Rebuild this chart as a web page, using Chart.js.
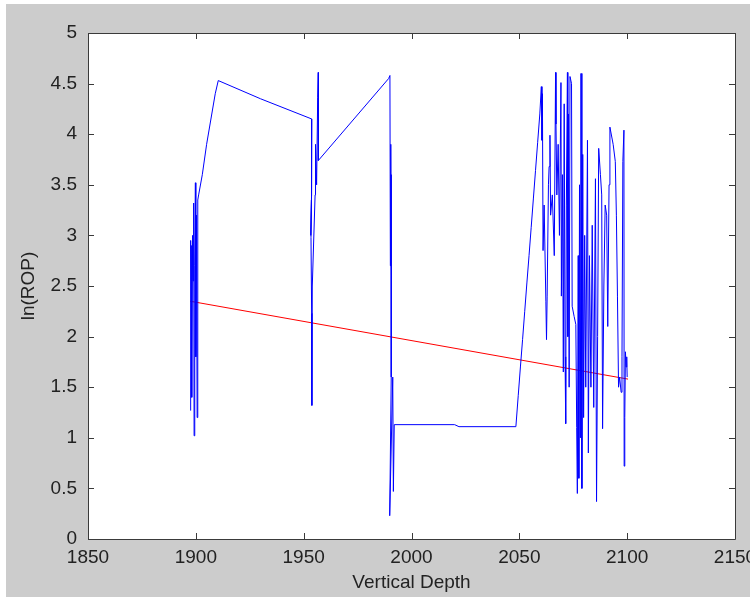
<!DOCTYPE html>
<html>
<head>
<meta charset="utf-8">
<title>ln(ROP) vs Vertical Depth</title>
<script src="https://cdn.jsdelivr.net/npm/chart.js@4.4.0/dist/chart.umd.min.js"></script>
<style>
  html, body { margin: 0; padding: 0; background: #ffffff; }
  #wrap { position: absolute; left: 0; top: 0; width: 750px; height: 597px; }
</style>
</head>
<body>
<div id="wrap"><canvas id="ropChart" width="750" height="597"></canvas></div>
<script>
// measured data (blue line), in drawing order
const depth = [
  1897.5, 1897.6, 1897.8, 1898.0, 1898.2, 1898.5, 1898.7, 1899.0, 1899.2, 1899.5,
  1899.8, 1900.0, 1900.3, 1900.6, 1900.9, 1901.3, 1903.0, 1905.0, 1907.0, 1909.0,
  1910.4, 1930.0, 1953.8,
  1953.8, 1953.5, 1953.3, 1953.6, 1953.4, 1953.7, 1953.8, 1954.0, 1955.3, 1955.5,
  1956.0, 1956.5, 1956.8, 1956.8, 1989.4,
  1990.0, 1990.2, 1990.4, 1990.6, 1990.5, 1990.7, 1989.9, 1991.3, 1991.6, 1992.0,
  2020.0, 2022.0, 2048.4,
  2049.5, 2050.5, 2051.5, 2052.5, 2053.5, 2054.5, 2055.5, 2056.5, 2057.5, 2058.5,
  2059.5, 2060.2, 2060.5, 2060.7, 2061.0, 2061.5, 2062.3, 2062.6, 2062.9,
  2063.5, 2063.8, 2064.2, 2064.5, 2065.3, 2066.2, 2066.8, 2067.0, 2067.4, 2068.0,
  2068.6, 2069.3, 2069.5, 2070.0, 2070.4, 2070.8, 2071.2, 2071.5, 2071.8, 2072.3,
  2072.5, 2072.8, 2073.1, 2073.5, 2074.2, 2074.5, 2075.4, 2076.2, 2076.6, 2076.9,
  2077.3, 2077.6, 2077.9, 2078.3, 2078.6, 2079.0, 2079.4, 2079.8, 2080.3, 2080.8,
  2081.6, 2082.0, 2082.5, 2083.2, 2083.8, 2084.5, 2085.3, 2085.8, 2086.3, 2086.8,
  2087.6, 2088.2, 2088.6, 2089.2, 2089.8, 2090.5, 2091.0, 2091.6, 2092.0, 2093.5,
  2094.5, 2095.0, 2095.5, 2096.0, 2096.5, 2097.2, 2097.6, 2098.0, 2098.5, 2098.6,
  2098.9, 2099.2, 2099.5, 2099.8, 2100.0
];
const lnRop = [
  1.27, 2.95, 2.60, 2.90, 1.40, 3.00, 2.55, 3.32, 1.02, 2.70,
  3.52, 1.80, 3.20, 1.20, 3.35, 3.40, 3.60, 3.90, 4.15, 4.40,
  4.53, 4.35, 4.15,
  3.44, 3.39, 3.00, 3.35, 2.98, 2.23, 1.32, 2.50, 3.40, 3.90,
  3.50, 4.36, 4.61, 3.74, 4.55,
  4.58, 2.70, 3.90, 2.60, 3.60, 1.60, 0.23, 1.60, 0.47, 1.13,
  1.13, 1.11, 1.11,
  1.42, 1.70, 1.97, 2.25, 2.53, 2.80, 3.08, 3.36, 3.64, 3.92,
  4.20, 4.47, 3.94, 4.40, 2.85, 3.30, 2.35, 1.97, 2.40,
  3.50, 3.68, 3.99, 3.20, 3.40, 2.80, 4.61, 4.10, 3.40, 3.90,
  3.00, 4.51, 2.40, 3.60, 1.65, 4.30, 1.80, 1.14, 3.30, 4.61,
  2.00, 4.20, 1.50, 4.57, 4.50, 2.30, 2.20, 2.12, 1.10, 0.45,
  2.80, 0.60, 3.50, 1.00, 4.60, 0.50, 3.80, 1.20, 3.00, 1.50,
  3.94, 0.85, 2.80, 1.50, 3.10, 1.30, 3.56, 0.37, 2.00, 3.86,
  3.60, 3.40, 1.09, 2.50, 3.30, 3.20, 2.10, 3.50, 4.07, 3.90,
  3.73, 3.20, 2.40, 1.50, 1.60, 1.45, 1.80, 3.73, 4.04, 0.72,
  1.20, 1.85, 1.70, 1.80, 1.60
];

// fitted trend line (red)
const trendDepth = [1897.3, 2100.4];
const trendValue = [2.35, 1.58];

// axis ticks
const xTicks = [1850, 1900, 1950, 2000, 2050, 2100, 2150];
const yTicks = [0, 0.5, 1, 1.5, 2, 2.5, 3, 3.5, 4, 4.5, 5];
const xTickLabels = ['1850', '1900', '1950', '2000', '2050', '2100', '2150'];
const yTickLabels = ['0', '0.5', '1', '1.5', '2', '2.5', '3', '3.5', '4', '4.5', '5'];

const labelFont = { family: "'Liberation Sans', Arial, sans-serif", size: 19 };

// 회색 배경과 안쪽으로 향하는 눈금 (MATLAB 스타일)
const matlabFrame = {
  id: 'matlabFrame',
  beforeDraw(chart) {
    const ctx = chart.ctx;
    const a = chart.chartArea;
    ctx.save();
    ctx.fillStyle = '#cccccc';
    ctx.fillRect(6, 4, 744, 593);
    ctx.fillStyle = '#ffffff';
    ctx.fillRect(a.left, a.top, a.right - a.left, a.bottom - a.top);
    ctx.restore();
  },
  afterDraw(chart) {
    const ctx = chart.ctx;
    const a = chart.chartArea;
    const xs = chart.scales.x;
    const ys = chart.scales.y;
    const len = 6;
    ctx.save();
    ctx.strokeStyle = '#3a3a3a';
    ctx.lineWidth = 1;
    ctx.beginPath();
    ctx.rect(Math.round(a.left) + 0.5, Math.round(a.top) + 0.5,
             Math.round(a.right - a.left), Math.round(a.bottom - a.top));
    xTicks.forEach(v => {
      const px = Math.round(xs.getPixelForValue(v)) + 0.5;
      ctx.moveTo(px, a.bottom); ctx.lineTo(px, a.bottom - len);
      ctx.moveTo(px, a.top); ctx.lineTo(px, a.top + len);
    });
    yTicks.forEach(v => {
      const py = Math.round(ys.getPixelForValue(v)) + 0.5;
      ctx.moveTo(a.left, py); ctx.lineTo(a.left + len, py);
      ctx.moveTo(a.right, py); ctx.lineTo(a.right - len, py);
    });
    ctx.stroke();
    ctx.restore();
  }
};

const ctx = document.getElementById('ropChart').getContext('2d');
new Chart(ctx, {
  type: 'scatter',
  data: {
    datasets: [
      {
        label: 'ln(ROP)',
        data: depth.map((d, i) => ({ x: d, y: lnRop[i] })),
        showLine: true,
        borderColor: '#0000ff',
        borderWidth: 1,
        pointRadius: 0,
        tension: 0
      },
      {
        label: 'trend',
        data: trendDepth.map((d, i) => ({ x: d, y: trendValue[i] })),
        showLine: true,
        borderColor: '#ff0000',
        borderWidth: 1,
        pointRadius: 0
      }
    ]
  },
  options: {
    responsive: false,
    animation: false,
    layout: { padding: { left: 0, top: 33, right: 15, bottom: 0 } },
    plugins: { legend: { display: false }, tooltip: { enabled: false } },
    scales: {
      x: {
        type: 'linear',
        min: 1850,
        max: 2150,
        afterFit(scale) {
          scale.height = 58;
          scale.paddingLeft = 0;
          scale.paddingRight = 0;
        },
        afterBuildTicks(scale) { scale.ticks = xTicks.map(v => ({ value: v })); },
        grid: { drawOnChartArea: false, drawTicks: false },
        border: { display: false },
        ticks: {
          padding: 7,
          color: '#222222',
          font: labelFont,
          maxRotation: 0,
          autoSkip: false,
          callback: (v) => xTickLabels[xTicks.indexOf(v)]
        },
        title: {
          display: true,
          text: 'Vertical Depth',
          color: '#222222',
          font: labelFont,
          padding: { top: 0, bottom: 3 }
        }
      },
      y: {
        type: 'linear',
        min: 0,
        max: 5,
        afterFit(scale) {
          scale.width = 88;
          scale.paddingTop = 0;
          scale.paddingBottom = 0;
        },
        afterBuildTicks(scale) { scale.ticks = yTicks.map(v => ({ value: v })); },
        grid: { drawOnChartArea: false, drawTicks: false },
        border: { display: false },
        ticks: {
          padding: 11,
          color: '#222222',
          font: labelFont,
          autoSkip: false,
          callback: (v) => yTickLabels[yTicks.indexOf(v)]
        },
        title: {
          display: true,
          text: 'ln(ROP)',
          color: '#222222',
          font: labelFont,
          padding: { top: 17, bottom: 0 }
        }
      }
    }
  },
  plugins: [matlabFrame]
});
</script>
</body>
</html>
